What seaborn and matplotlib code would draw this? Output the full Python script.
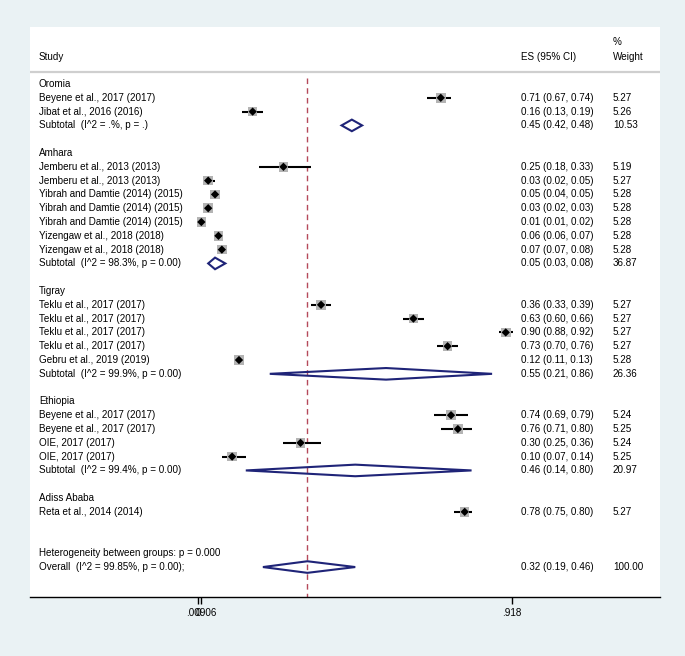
import numpy as np
import pandas as pd
import matplotlib.pyplot as plt
import seaborn as sns
from matplotlib.patches import Polygon

# Data
group_names = ["Oromia", "Amhara", "Tigray", "Ethiopia", "Adiss Ababa"]

studies = [
    "Beyene et al., 2017 (2017)", "Jibat et al., 2016 (2016)",
    "Jemberu et al., 2013 (2013)", "Jemberu et al., 2013 (2013)",
    "Yibrah and Damtie (2014) (2015)", "Yibrah and Damtie (2014) (2015)",
    "Yibrah and Damtie (2014) (2015)", "Yizengaw et al., 2018 (2018)",
    "Yizengaw et al., 2018 (2018)",
    "Teklu et al., 2017 (2017)", "Teklu et al., 2017 (2017)",
    "Teklu et al., 2017 (2017)", "Teklu et al., 2017 (2017)",
    "Gebru et al., 2019 (2019)",
    "Beyene et al., 2017 (2017)", "Beyene et al., 2017 (2017)",
    "OIE, 2017 (2017)", "OIE, 2017 (2017)",
    "Reta et al., 2014 (2014)",
]
study_group = ["Oromia"] * 2 + ["Amhara"] * 7 + ["Tigray"] * 5 + ["Ethiopia"] * 4 + ["Adiss Ababa"]
es = [0.71, 0.16, 0.25, 0.03, 0.05, 0.03, 0.01, 0.06, 0.07,
      0.36, 0.63, 0.90, 0.73, 0.12, 0.74, 0.76, 0.30, 0.10, 0.78]
ci_low = [0.67, 0.13, 0.18, 0.02, 0.04, 0.02, 0.01, 0.06, 0.07,
          0.33, 0.60, 0.88, 0.70, 0.11, 0.69, 0.71, 0.25, 0.07, 0.75]
ci_high = [0.74, 0.19, 0.33, 0.05, 0.05, 0.03, 0.02, 0.07, 0.08,
           0.39, 0.66, 0.92, 0.76, 0.13, 0.79, 0.80, 0.36, 0.14, 0.80]
weight = [5.27, 5.26, 5.19, 5.27, 5.28, 5.28, 5.28, 5.28, 5.28,
          5.27, 5.27, 5.27, 5.27, 5.28, 5.24, 5.25, 5.24, 5.25, 5.27]

sub_groups = ["Oromia", "Amhara", "Tigray", "Ethiopia"]
sub_labels = ["Subtotal  (I^2 = .%, p = .)", "Subtotal  (I^2 = 98.3%, p = 0.00)",
              "Subtotal  (I^2 = 99.9%, p = 0.00)", "Subtotal  (I^2 = 99.4%, p = 0.00)"]
sub_es = [0.45, 0.05, 0.55, 0.46]
sub_low = [0.42, 0.03, 0.21, 0.14]
sub_high = [0.48, 0.08, 0.86, 0.80]
sub_weight = [10.53, 36.87, 26.36, 20.97]

het_label = "Heterogeneity between groups: p = 0.000"
overall_label = "Overall  (I^2 = 99.85%, p = 0.00);"
overall_es, overall_low, overall_high, overall_weight = 0.32, 0.19, 0.46, 100.00

tick_values = [0, 0.00906, 0.918]
tick_labels = ["0", ".00906", ".918"]

# row layout
rows = []  # (row, kind, label, es, lo, hi, w)
r = 0
for g in group_names:
    rows.append((r, "group", g, None, None, None, None))
    r += 1
    for i, s in enumerate(studies):
        if study_group[i] == g:
            rows.append((r, "study", s, es[i], ci_low[i], ci_high[i], weight[i]))
            r += 1
    if g in sub_groups:
        k = sub_groups.index(g)
        rows.append((r, "sub", sub_labels[k], sub_es[k], sub_low[k], sub_high[k], sub_weight[k]))
        r += 1
    r += 1
r += 1
rows.append((r, "het", het_label, None, None, None, None))
rows.append((r + 1, "sub", overall_label, overall_es, overall_low, overall_high, overall_weight))

df = pd.DataFrame(rows, columns=["row", "kind", "label", "es", "lo", "hi", "w"])
st = df[df.kind == "study"]

sns.set_theme(style="white")
plt.rcParams["font.family"] = ["Liberation Sans", "DejaVu Sans"]
plt.rcParams["text.color"] = "black"
plt.rcParams["xtick.color"] = "black"

fig = plt.figure(figsize=(6.85, 6.56), dpi=100)
fig.patch.set_facecolor("#EAF2F4")
ax = fig.add_axes([30 / 685, 59 / 656, 630 / 685, 570 / 656])
ax.set_facecolor("white")

x_left, x_right = -0.491, 1.351
y_top, y_bot = -4.13, 37.17
ax.set_xlim(x_left, x_right)
ax.set_ylim(y_bot, y_top)

# reference line at the overall estimate
ax.vlines(overall_es, -0.4, y_bot, colors="#B5495B", linestyles=(0, (4, 3)), lw=1, zorder=1)

# confidence intervals
ax.hlines(st.row, st.lo, st.hi, colors="black", lw=1.5, zorder=2)

# weight boxes and point estimates
sns.scatterplot(data=st, x="es", y="row", marker="s", s=st.w * 9, color="#B4B4B4",
                edgecolor="none", ax=ax, zorder=3, legend=False)
sns.scatterplot(data=st, x="es", y="row", marker="D", s=18, color="black",
                edgecolor="none", ax=ax, zorder=4, legend=False)

# subtotal / overall diamonds
for _, d in df[df.kind == "sub"].iterrows():
    h = 0.42
    poly = Polygon([[d.lo, d.row], [d.es, d.row - h], [d.hi, d.row], [d.es, d.row + h]],
                   closed=True, fill=False, edgecolor="#1F2478", lw=1.5, zorder=4)
    ax.add_patch(poly)

# text columns
fs = 7.1
x_study, x_es, x_w = -0.465, 0.945, 1.213
ax.text(x_study, -1.95, "Study", fontsize=fs, va="center")
ax.text(x_es, -1.95, "ES (95% CI)", fontsize=fs, va="center")
ax.text(x_w, -3.05, "%", fontsize=fs, va="center")
ax.text(x_w, -1.95, "Weight", fontsize=fs, va="center")
ax.hlines(-0.87, x_left, x_right, colors="#CFCFCF", lw=1.6)

for _, d in df.iterrows():
    ax.text(x_study, d.row, d.label, fontsize=fs, va="center")
    if d.kind in ("study", "sub"):
        ax.text(x_es, d.row, f"{d.es:.2f} ({d.lo:.2f}, {d.hi:.2f})", fontsize=fs, va="center")
        ax.text(x_w, d.row, f"{d.w:.2f}", fontsize=fs, va="center")

# axis styling
for side in ["top", "left", "right"]:
    ax.spines[side].set_visible(False)
ax.spines["bottom"].set_color("black")
ax.spines["bottom"].set_linewidth(1)
ax.set_yticks([])
ax.set_xticks(tick_values)
ax.set_xticklabels(tick_labels, fontsize=fs)
ax.tick_params(axis="x", bottom=True, length=5, width=1, color="black", labelcolor="black", pad=3)
ax.set_xlabel("")
ax.set_ylabel("")

fig.savefig("out.png", dpi=100, facecolor=fig.get_facecolor())
